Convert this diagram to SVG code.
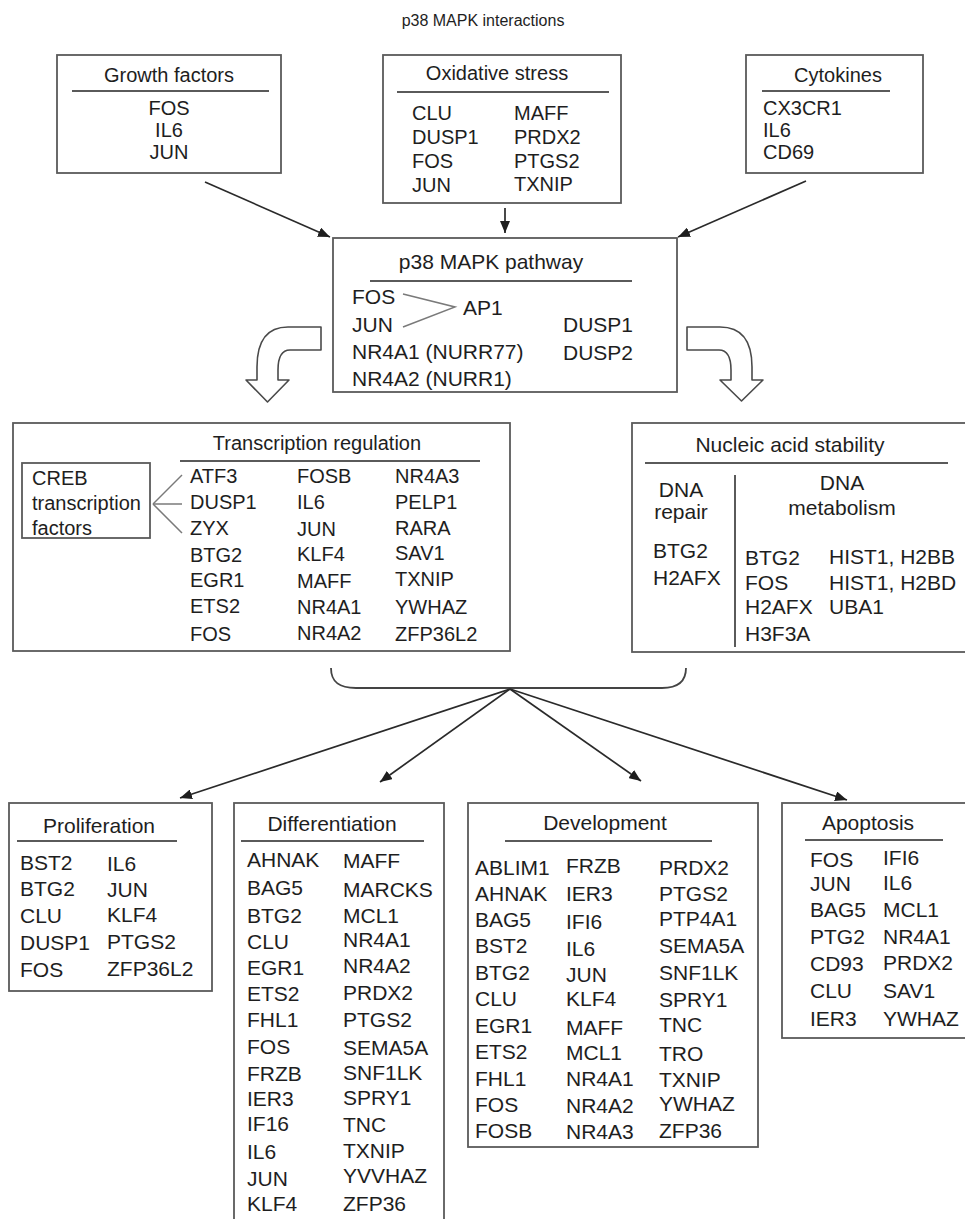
<svg xmlns="http://www.w3.org/2000/svg" width="965" height="1219" viewBox="0 0 965 1219">
<defs>
<style>
text{font-family:"Liberation Sans",Arial,Helvetica,sans-serif;fill:#1e1e1e;}
.t16{font-size:16px;}
.t20{font-size:20px;}
.t21{font-size:21px;}
.mid{text-anchor:middle;}
.box{fill:#fff;stroke:#5a5a5a;stroke-width:1.8;}
.ul{stroke:#5a5a5a;stroke-width:2;fill:none;}
.thin{stroke:#7a7a7a;stroke-width:1.5;fill:none;}
.conn{stroke:#2a2a2a;stroke-width:1.7;fill:none;marker-end:url(#ah);}
.bend{fill:#fff;stroke:#4a4a4a;stroke-width:1.6;stroke-linejoin:round;}
</style>
<marker id="ah" viewBox="0 0 12 10" refX="12" refY="5" markerWidth="12" markerHeight="10" markerUnits="userSpaceOnUse" orient="auto">
<path d="M0,0 L12,5 L0,10 z" fill="#1e1e1e"/>
</marker>
</defs>
<rect width="965" height="1219" fill="#fff"/>

<text id="title" class="t16 mid" x="483" y="26">p38 MAPK interactions</text>

<g id="growth">
<rect class="box" x="57" y="55" width="224" height="118"/>
<text class="t20 mid" x="169" y="82">Growth factors</text>
<line class="ul" x1="72" y1="91" x2="269" y2="91"/>
<text class="t20 mid" x="169" y="115">FOS</text>
<text class="t20 mid" x="169" y="137">IL6</text>
<text class="t20 mid" x="169" y="159">JUN</text>
</g>

<g id="oxidative">
<rect class="box" x="383" y="55" width="238" height="148"/>
<text class="t20 mid" x="497" y="80">Oxidative stress</text>
<line class="ul" x1="397" y1="92" x2="609" y2="92"/>
<g class="t20">
<text x="412" y="120">CLU</text><text x="514" y="120">MAFF</text>
<text x="412" y="144">DUSP1</text><text x="514" y="144">PRDX2</text>
<text x="412" y="168">FOS</text><text x="514" y="168">PTGS2</text>
<text x="412" y="192">JUN</text><text x="514" y="191">TXNIP</text>
</g>
</g>

<g id="cytokines">
<rect class="box" x="746" y="55" width="177" height="118"/>
<text class="t20 mid" x="838" y="82">Cytokines</text>
<line class="ul" x1="762" y1="91" x2="890" y2="91"/>
<text class="t20" x="763" y="115">CX3CR1</text>
<text class="t20" x="763" y="137">IL6</text>
<text class="t20" x="763" y="159">CD69</text>
</g>

<g id="p38">
<rect class="box" x="333" y="238" width="344" height="154"/>
<text class="t21 mid" x="491" y="269">p38 MAPK pathway</text>
<line class="ul" x1="370" y1="281" x2="632" y2="281"/>
<g class="t21">
<text x="352" y="304">FOS</text>
<text x="352" y="332">JUN</text>
<text x="352" y="359">NR4A1 (NURR77)</text>
<text x="352" y="386">NR4A2 (NURR1)</text>
<text x="463" y="315">AP1</text>
<text x="563" y="332">DUSP1</text>
<text x="563" y="360">DUSP2</text>
</g>
<polyline class="thin" points="403,294 455,307 403,327"/>
</g>

<g id="bend-left">
<path class="bend" d="M321,327 L288,327 Q257,327 257,367 L257,380 L246,380 L267.5,402 L289,380 L278,380 L278,370 Q278,350 290,350 L321,350 Z"/>
</g>
<g id="bend-right">
<path class="bend" d="M687,327 L720,327 Q752,327 752,367 L752,380 L763,380 L741.5,401 L720,380 L731,380 L731,370 Q731,350 719,350 L687,350 Z"/>
</g>

<g id="transcription">
<rect class="box" x="13" y="423" width="497" height="228"/>
<text class="t20 mid" x="317" y="450">Transcription regulation</text>
<line class="ul" x1="180" y1="461" x2="480" y2="461"/>
<rect class="box" x="22" y="463" width="128" height="75"/>
<g class="t20">
<text x="32" y="485">CREB</text>
<text x="32" y="510">transcription</text>
<text x="32" y="535">factors</text>
</g>
<g class="thin">
<line x1="153" y1="504" x2="182" y2="475"/>
<line x1="153" y1="504" x2="182" y2="504"/>
<line x1="153" y1="504" x2="182" y2="533"/>
</g>
<g class="t20">
<text x="190" y="483">ATF3</text><text x="297" y="483">FOSB</text><text x="395" y="483">NR4A3</text>
<text x="190" y="509">DUSP1</text><text x="297" y="509">IL6</text><text x="395" y="509">PELP1</text>
<text x="190" y="535">ZYX</text><text x="297" y="536">JUN</text><text x="395" y="535">RARA</text>
<text x="190" y="562">BTG2</text><text x="297" y="561">KLF4</text><text x="395" y="560">SAV1</text>
<text x="190" y="587">EGR1</text><text x="297" y="588">MAFF</text><text x="395" y="586">TXNIP</text>
<text x="190" y="613">ETS2</text><text x="297" y="614">NR4A1</text><text x="395" y="614">YWHAZ</text>
<text x="190" y="641">FOS</text><text x="297" y="640">NR4A2</text><text x="395" y="641">ZFP36L2</text>
</g>
</g>

<g id="nucleic">
<rect class="box" x="632" y="423" width="340" height="229"/>
<text class="t21 mid" x="790" y="452">Nucleic acid stability</text>
<line class="ul" x1="645" y1="463" x2="948" y2="463"/>
<line class="ul" x1="735" y1="475" x2="735" y2="647"/>
<g class="t21">
<text class="mid" x="681" y="497">DNA</text>
<text class="mid" x="681" y="519">repair</text>
<text x="653" y="558">BTG2</text>
<text x="653" y="585">H2AFX</text>
<text class="mid" x="842" y="490">DNA</text>
<text class="mid" x="842" y="515">metabolism</text>
<text x="745" y="565">BTG2</text><text x="829" y="564">HIST1, H2BB</text>
<text x="745" y="590">FOS</text><text x="829" y="590">HIST1, H2BD</text>
<text x="745" y="614">H2AFX</text><text x="829" y="614">UBA1</text>
<text x="745" y="641">H3F3A</text>
</g>
</g>

<g id="connectors">
<line class="conn" x1="205" y1="182" x2="330" y2="237"/>
<line class="conn" x1="505" y1="208" x2="505" y2="233"/>
<line class="conn" x1="806" y1="181" x2="678" y2="237"/>
<path d="M331,668 C331,682 339,688 356,688 L662,688 C678,688 686,682 686,668" fill="none" stroke="#444" stroke-width="1.8"/>
<line class="conn" x1="510" y1="689" x2="180" y2="798"/>
<line class="conn" x1="510" y1="689" x2="380" y2="782"/>
<line class="conn" x1="510" y1="689" x2="641" y2="781"/>
<line class="conn" x1="510" y1="689" x2="847" y2="800"/>
</g>

<g id="proliferation">
<rect class="box" x="9" y="803" width="203" height="188"/>
<text class="t21 mid" x="99" y="833">Proliferation</text>
<line class="ul" x1="17" y1="841" x2="177" y2="841"/>
<g class="t21">
<text x="20" y="870">BST2</text><text x="107" y="871">IL6</text>
<text x="20" y="896">BTG2</text><text x="107" y="897">JUN</text>
<text x="20" y="923">CLU</text><text x="107" y="922">KLF4</text>
<text x="20" y="950">DUSP1</text><text x="107" y="949">PTGS2</text>
<text x="20" y="977">FOS</text><text x="107" y="976">ZFP36L2</text>
</g>
</g>

<g id="differentiation">
<rect class="box" x="234" y="803" width="210" height="440"/>
<text class="t21 mid" x="332" y="831">Differentiation</text>
<line class="ul" x1="241" y1="841" x2="424" y2="841"/>
<g class="t21">
<text x="247" y="867">AHNAK</text><text x="343" y="868">MAFF</text>
<text x="247" y="895">BAG5</text><text x="343" y="897">MARCKS</text>
<text x="247" y="923">BTG2</text><text x="343" y="923">MCL1</text>
<text x="247" y="949">CLU</text><text x="343" y="947">NR4A1</text>
<text x="247" y="975">EGR1</text><text x="343" y="973">NR4A2</text>
<text x="247" y="1001">ETS2</text><text x="343" y="1000">PRDX2</text>
<text x="247" y="1027">FHL1</text><text x="343" y="1027">PTGS2</text>
<text x="247" y="1054">FOS</text><text x="343" y="1055">SEMA5A</text>
<text x="247" y="1081">FRZB</text><text x="343" y="1080">SNF1LK</text>
<text x="247" y="1106">IER3</text><text x="343" y="1105">SPRY1</text>
<text x="247" y="1131">IF16</text><text x="343" y="1132">TNC</text>
<text x="247" y="1159">IL6</text><text x="343" y="1158">TXNIP</text>
<text x="247" y="1186">JUN</text><text x="343" y="1183">YVVHAZ</text>
<text x="247" y="1211">KLF4</text><text x="343" y="1211">ZFP36</text>
</g>
</g>

<g id="development">
<rect class="box" x="468" y="803" width="290" height="344"/>
<text class="t21 mid" x="605" y="830">Development</text>
<line class="ul" x1="505" y1="841" x2="712" y2="841"/>
<g class="t21">
<text x="475" y="875">ABLIM1</text><text x="566" y="873">FRZB</text><text x="659" y="875">PRDX2</text>
<text x="475" y="901">AHNAK</text><text x="566" y="901">IER3</text><text x="659" y="901">PTGS2</text>
<text x="475" y="927">BAG5</text><text x="566" y="929">IFI6</text><text x="659" y="926">PTP4A1</text>
<text x="475" y="953">BST2</text><text x="566" y="956">IL6</text><text x="659" y="953">SEMA5A</text>
<text x="475" y="980">BTG2</text><text x="566" y="982">JUN</text><text x="659" y="980">SNF1LK</text>
<text x="475" y="1006">CLU</text><text x="566" y="1006">KLF4</text><text x="659" y="1007">SPRY1</text>
<text x="475" y="1033">EGR1</text><text x="566" y="1035">MAFF</text><text x="659" y="1032">TNC</text>
<text x="475" y="1059">ETS2</text><text x="566" y="1060">MCL1</text><text x="659" y="1061">TRO</text>
<text x="475" y="1086">FHL1</text><text x="566" y="1086">NR4A1</text><text x="659" y="1087">TXNIP</text>
<text x="475" y="1112">FOS</text><text x="566" y="1113">NR4A2</text><text x="659" y="1111">YWHAZ</text>
<text x="475" y="1138">FOSB</text><text x="566" y="1139">NR4A3</text><text x="659" y="1138">ZFP36</text>
</g>
</g>

<g id="apoptosis">
<rect class="box" x="782" y="803" width="190" height="235"/>
<text class="t21 mid" x="868" y="830">Apoptosis</text>
<line class="ul" x1="805" y1="840" x2="943" y2="840"/>
<g class="t21">
<text x="810" y="867">FOS</text><text x="883" y="865">IFI6</text>
<text x="810" y="891">JUN</text><text x="883" y="890">IL6</text>
<text x="810" y="917">BAG5</text><text x="883" y="917">MCL1</text>
<text x="810" y="944">PTG2</text><text x="883" y="944">NR4A1</text>
<text x="810" y="971">CD93</text><text x="883" y="970">PRDX2</text>
<text x="810" y="998">CLU</text><text x="883" y="998">SAV1</text>
<text x="810" y="1026">IER3</text><text x="883" y="1026">YWHAZ</text>
</g>
</g>
</svg>
